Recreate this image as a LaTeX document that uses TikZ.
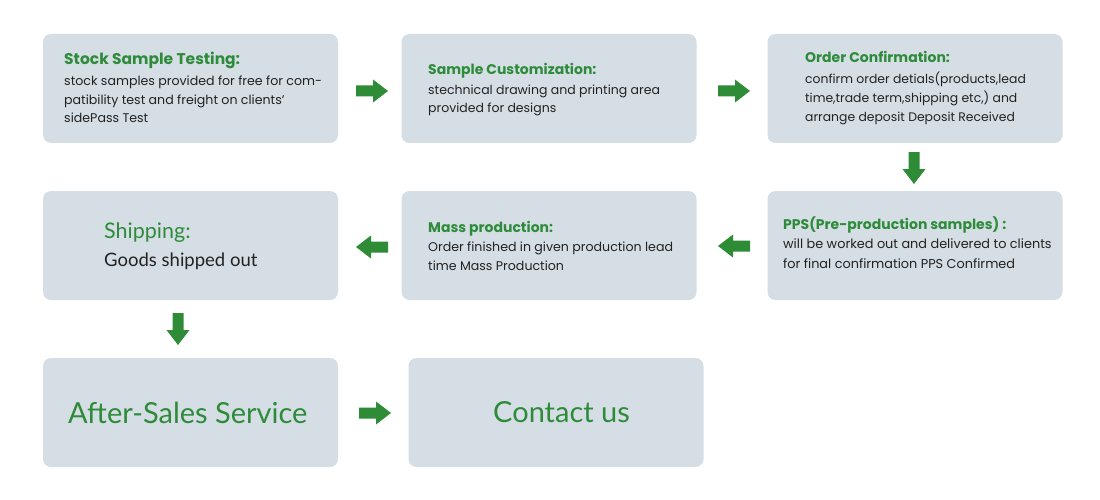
\documentclass[tikz,border=0pt]{standalone}
\usepackage{fontspec}
\setmainfont{Poppins}
\newfontfamily\latof{Lato}
\definecolor{boxfill}{HTML}{D5DEE5}
\definecolor{tgreen}{HTML}{2E8B3A}
\definecolor{agreen}{HTML}{2E8B36}
\definecolor{bodyc}{HTML}{222222}
\begin{document}
\begin{tikzpicture}[x=1pt,y=-1pt,
 card/.style={fill=boxfill, rounded corners=8pt, draw=none, minimum width=295pt, minimum height=109pt, inner sep=0pt},
 ttl/.style={anchor=base west, inner sep=0pt, text=tgreen, font=\fontsize{14}{16}\selectfont\bfseries},
 bdy/.style={anchor=base west, inner sep=0pt, text=bodyc, font=\fontsize{12.6}{15}\selectfont},
 bigt/.style={anchor=base west, inner sep=0pt, text=tgreen, font=\latof\fontsize{29}{32}\selectfont},
 barrow/.pic={\fill[agreen] (-16,-5.5) -- (1,-5.5) -- (1,-11.5) -- (16,0) -- (1,11.5) -- (1,5.5) -- (-16,5.5) -- cycle;}]
\useasboundingbox (0,0) rectangle (1100,500);
\fill[white] (0,0) rectangle (1100,500);
% boxes
\node[card] (b1) at (190.5,88.5) {};
\node[card] (b2) at (549,88.5) {};
\node[card] (b3) at (915,88.5) {};
\node[card] (b4) at (915,245.5) {};
\node[card] (b5) at (549,245.5) {};
\node[card] (b6) at (190.5,245.5) {};
\node[card] (b7) at (190.5,412.5) {};
\node[card] (b8) at (556,412.5) {};
% box 1
\node[ttl, font=\fontsize{15.5}{18}\selectfont\bfseries] (t1) at (64,65) {Stock Sample Testing:};
\node[bdy] (t1a) at (64,86) {stock samples provided for free for com-};
\node[bdy] (t1b) at (64,104.5) {patibility test and freight on clients'};
\node[bdy] (t1c) at (64,123) {sidePass Test};
% box 2
\node[ttl] (t2) at (428,75) {Sample Customization:};
\node[bdy, font=\fontsize{12.5}{15}\selectfont] (t2a) at (428,95) {stechnical drawing and printing area};
\node[bdy, font=\fontsize{12.5}{15}\selectfont] (t2b) at (428,113) {provided for designs};
% box 3
\node[ttl] (t3) at (805,63) {Order Confirmation:};
\node[bdy, font=\fontsize{12.4}{15}\selectfont] (t3a) at (805,84) {confirm order detials(products,lead};
\node[bdy, font=\fontsize{12.4}{15}\selectfont] (t3b) at (805,103) {time,trade term,shipping etc,) and};
\node[bdy, font=\fontsize{12.4}{15}\selectfont] (t3c) at (805,122) {arrange deposit Deposit Received};
% box 4
\node[ttl] (t4) at (783,229) {PPS(Pre-production samples) :};
\node[bdy, font=\fontsize{12.85}{15}\selectfont] (t4a) at (783,248) {will be worked out and delivered to clients};
\node[bdy, font=\fontsize{12.85}{15}\selectfont] (t4b) at (783,268) {for final confirmation PPS Confirmed};
% box 5
\node[ttl] (t5) at (428,232) {Mass production:};
\node[bdy] (t5a) at (428,251) {Order finished in given production lead};
\node[bdy] (t5b) at (428,270) {time Mass Production};
% box 6
\node[anchor=base west, inner sep=0pt, text=tgreen, font=\latof\fontsize{21.5}{24}\selectfont] (t6) at (104,238) {Shipping:};
\node[anchor=base west, inner sep=0pt, text=bodyc, font=\latof\fontsize{18.5}{22}\selectfont] (t6a) at (104,266) {Goods shipped out};
% box 7, 8
\node[bigt] (t7) at (68,423) {After-Sales Service};
\node[bigt] (t8) at (493,422) {Contact us};
% arrows
\pic at (372,91) {barrow};
\pic at (734,91) {barrow};
\pic[rotate=-90] at (914,168) {barrow};
\pic[rotate=180] at (734,246) {barrow};
\pic[rotate=180] at (372,247) {barrow};
\pic[rotate=-90] at (178,329) {barrow};
\pic at (375,413) {barrow};
\end{tikzpicture}
\end{document}
